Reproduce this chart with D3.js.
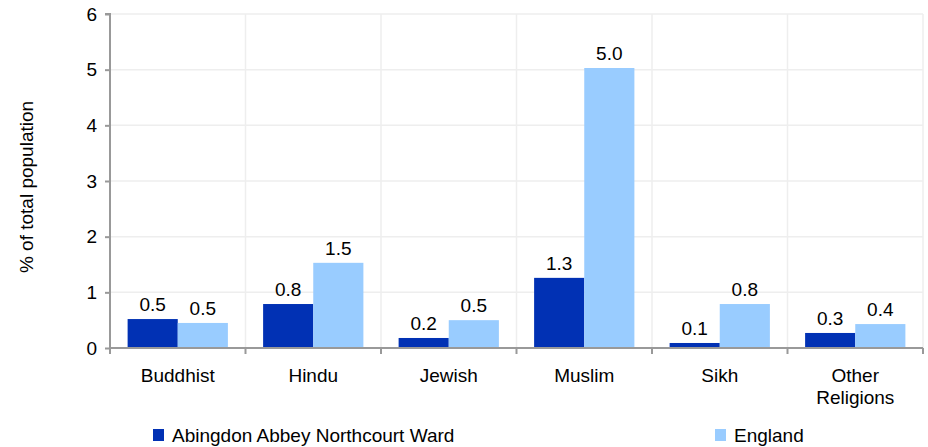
<!DOCTYPE html>
<html>
<head>
<meta charset="utf-8">
<script src="https://cdn.jsdelivr.net/npm/d3@7"></script>
<style>
  body { margin: 0; background: #fff; }
  text { font-family: "Liberation Sans", Arial, sans-serif; fill: #000; }
</style>
</head>
<body>
<div id="chart"></div>
<script>
(function () {
	// data
	var categories = ["Buddhist", "Hindu", "Jewish", "Muslim", "Sikh", "Other Religions"];
	var seriesNames = ["Abingdon Abbey Northcourt Ward", "England"];
	var wardValues = [0.52, 0.79, 0.18, 1.26, 0.09, 0.27];
	var englandValues = [0.45, 1.53, 0.50, 5.03, 0.79, 0.43];
	var wardLabels = ["0.5", "0.8", "0.2", "1.3", "0.1", "0.3"];
	var englandLabels = ["0.5", "1.5", "0.5", "5.0", "0.8", "0.4"];
	var yTicks = [0, 1, 2, 3, 4, 5, 6];
	var colours = ["#0131b4", "#99ccff"];

	var fontSize = "19px";

	var margin = {top: 14, right: 5, bottom: 99, left: 110},
		width = 928 - margin.left - margin.right,
		height = 447 - margin.top - margin.bottom;

	var svg = d3.select("#chart").append("svg")
		.attr("width", 928)
		.attr("height", 447)
		.append("g")
		.attr("transform", "translate(" + margin.left + "," + margin.top + ")");

	var x0 = d3.scaleBand().domain(categories).range([0, width]);
	var x1 = d3.scaleBand().domain(seriesNames)
		.range([x0.bandwidth() * 0.13, x0.bandwidth() * 0.87]);
	var y = d3.scaleLinear().domain([0, 6]).range([height, 0]);

	// gridlines
	svg.append("g").selectAll("line.h")
		.data(yTicks.slice(1))
		.enter().append("line")
		.attr("x1", 0).attr("x2", width)
		.attr("y1", function(d) { return y(d); })
		.attr("y2", function(d) { return y(d); })
		.attr("stroke", "#eeeeee").attr("stroke-width", 1.5);

	var bounds = categories.slice(1).map(function(c) { return x0(c); }).concat([width]);
	svg.append("g").selectAll("line.v")
		.data(bounds)
		.enter().append("line")
		.attr("x1", function(d) { return d; }).attr("x2", function(d) { return d; })
		.attr("y1", 0).attr("y2", height)
		.attr("stroke", "#eeeeee").attr("stroke-width", 1.5);

	// bars
	var rows = categories.map(function(c, i) {
		return {cat: c, vals: [
			{s: seriesNames[0], v: wardValues[i], lab: wardLabels[i], col: colours[0]},
			{s: seriesNames[1], v: englandValues[i], lab: englandLabels[i], col: colours[1]}
		]};
	});

	var groups = svg.selectAll(".grp")
		.data(rows)
		.enter().append("g")
		.attr("class", "grp")
		.attr("transform", function(d) { return "translate(" + x0(d.cat) + ",0)"; });

	groups.selectAll("rect")
		.data(function(d) { return d.vals; })
		.enter().append("rect")
		.attr("x", function(d) { return x1(d.s); })
		.attr("width", x1.bandwidth())
		.attr("y", function(d) { return y(d.v); })
		.attr("height", function(d) { return height - y(d.v); })
		.attr("fill", function(d) { return d.col; });

	groups.selectAll("text.val")
		.data(function(d) { return d.vals; })
		.enter().append("text")
		.attr("class", "val")
		.attr("x", function(d) { return x1(d.s) + x1.bandwidth() / 2; })
		.attr("y", function(d) { return y(d.v) - 8; })
		.attr("text-anchor", "middle")
		.style("font-size", fontSize)
		.text(function(d) { return d.lab; });

	// y axis
	var yAxis = svg.append("g")
		.call(d3.axisLeft(y).tickValues(yTicks).tickFormat(d3.format("d")).tickSize(5).tickPadding(8));
	yAxis.selectAll("path, line").attr("stroke", "#999999").attr("stroke-width", 2);
	yAxis.select(".domain").attr("d", "M0," + (height + 6) + "V0H-5");
	yAxis.selectAll("text").style("font-size", fontSize).style("font-family", "Liberation Sans, Arial, sans-serif").attr("fill", "#000");

	// x axis
	var xg = svg.append("g").attr("transform", "translate(0," + height + ")");
	xg.append("line").attr("x1", 0).attr("x2", width)
		.attr("stroke", "#999999").attr("stroke-width", 2);
	xg.selectAll("line.tk")
		.data([0].concat(bounds))
		.enter().append("line")
		.attr("x1", function(d) { return d; }).attr("x2", function(d) { return d; })
		.attr("y1", 0).attr("y2", 6)
		.attr("stroke", "#999999").attr("stroke-width", 2);

	xg.selectAll("text.cat")
		.data(categories)
		.enter().append("text")
		.attr("text-anchor", "middle")
		.attr("x", function(d) { return x0(d) + x0.bandwidth() / 2; })
		.attr("y", 34)
		.style("font-size", fontSize)
		.each(function(d) {
			var parts = d === "Other Religions" ? ["Other", "Religions"] : [d];
			var t = d3.select(this);
			parts.forEach(function(p, i) {
				t.append("tspan").attr("x", x0(d) + x0.bandwidth() / 2)
					.attr("dy", i === 0 ? 0 : 22).text(p);
			});
		});

	// y title
	svg.append("text")
		.attr("transform", "translate(-77," + (187 - margin.top) + ") rotate(-90)")
		.attr("text-anchor", "middle")
		.style("font-size", fontSize)
		.text("% of total population");

	// legend
	var legendX = [153, 715];
	var legend = d3.select("svg").append("g");
	seriesNames.forEach(function(s, i) {
		legend.append("rect")
			.attr("x", legendX[i]).attr("y", 429)
			.attr("width", 11).attr("height", 12)
			.attr("fill", colours[i]);
		legend.append("text")
			.attr("x", legendX[i] + 19).attr("y", 442)
			.style("font-size", fontSize)
			.text(s);
	});
})();
</script>
</body>
</html>
